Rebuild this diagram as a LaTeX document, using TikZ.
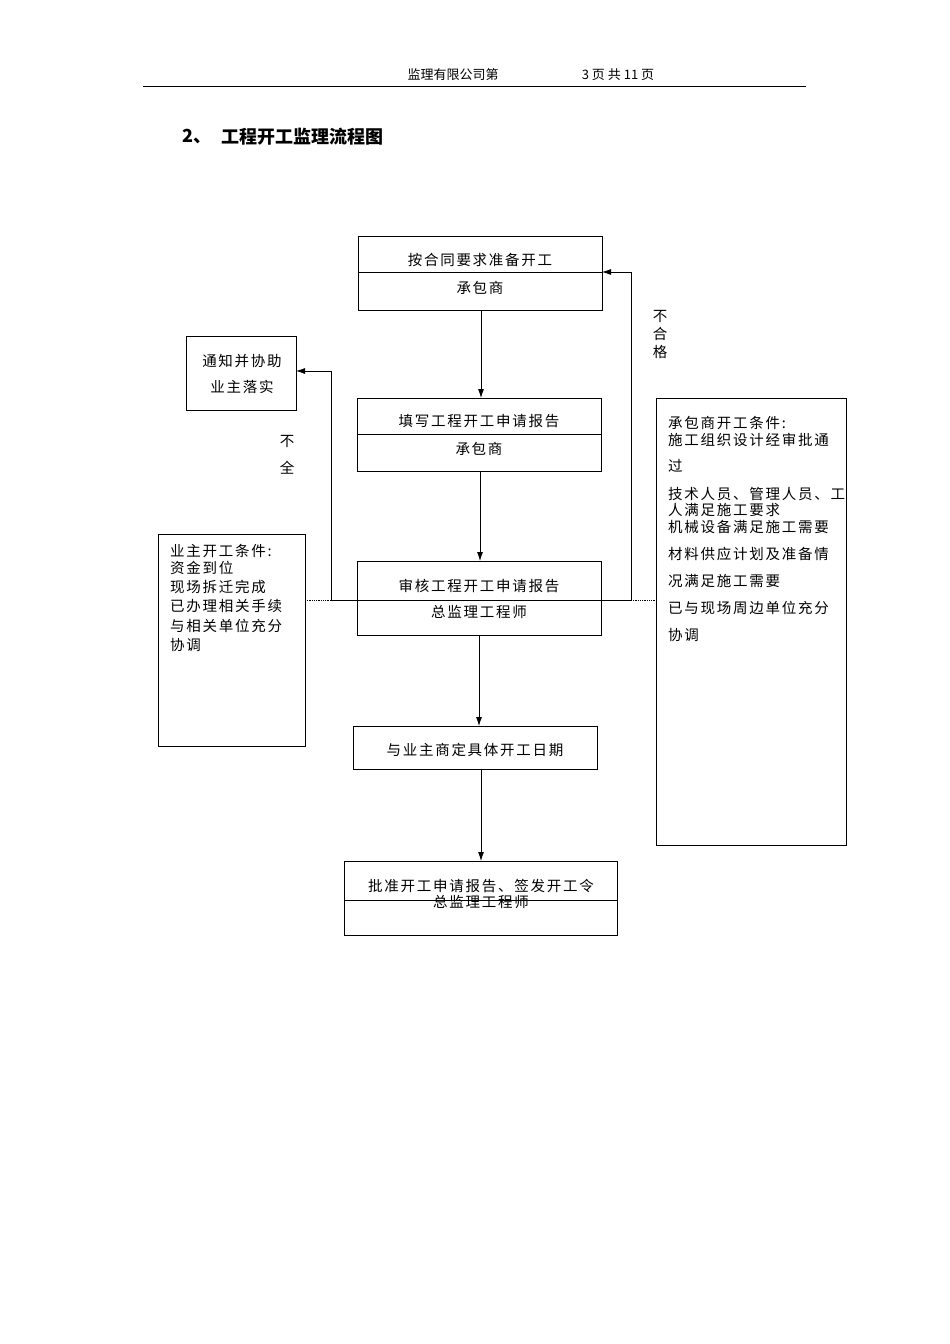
\documentclass[tikz,border=0pt]{standalone}
\usepackage{fontspec}
\usetikzlibrary{arrows.meta}
\setmainfont{Noto Sans CJK SC}
\newfontfamily\spc[LetterSpace=12]{Noto Sans CJK SC}
\begin{document}
\begin{tikzpicture}[x=1pt,y=-1pt,
  bx/.style={draw,line width=0.8pt},
  t/.style={font=\spc\fontsize{14.5}{15}\selectfont,inner sep=0pt},
  ln/.style={line width=0.8pt},
  ar/.style={line width=0.8pt,-{Latex[length=9pt,width=6pt]}},
  dt/.style={line width=0.8pt,densely dotted}]
\useasboundingbox (0,0) rectangle (950,1344);
\node[t,font=\fontsize{13}{13}\selectfont] (h1) at (453,75) {监理有限公司第};
\node[t,font=\fontsize{13}{13}\selectfont] (h2) at (618,75) {3 页 共 11 页};
\draw[ln] (143,86) -- (806,86);
\node[t,anchor=west,font=\bfseries\fontsize{18}{18}\selectfont] (num) at (182,137) {2、};
\node[t,anchor=west,font=\bfseries\fontsize{18}{18}\selectfont] (title) at (221,137) {工程开工监理流程图};
% box1
\draw[bx] (358,236) rectangle (602,310); \draw[ln] (358,272)--(602,272);
\coordinate (b1b) at (481,310); \coordinate (b1r) at (602,272);
\node[t] at (480,260) {按合同要求准备开工};
\node[t] at (480,288) {承包商};
% box2
\draw[bx] (357,398) rectangle (601,471); \draw[ln] (357,434)--(601,434);
\coordinate (b2t) at (481,398); \coordinate (b2b) at (480,471);
\node[t] at (479,421) {填写工程开工申请报告};
\node[t] at (479,449) {承包商};
% box3
\draw[bx] (357,561) rectangle (601,635); \draw[ln] (357,600)--(601,600);
\coordinate (b3t) at (480,561); \coordinate (b3b) at (479,635);
\coordinate (b3l) at (357,600); \coordinate (b3r) at (601,600);
\node[t] at (479,586) {审核工程开工申请报告};
\node[t] at (479,612) {总监理工程师};
% box4
\draw[bx] (353,726) rectangle (597,769);
\coordinate (b4t) at (479,726); \coordinate (b4b) at (481,769);
\node[t] at (475,750) {与业主商定具体开工日期};
% box5
\draw[bx] (344,861) rectangle (617,935); \draw[ln] (344,900)--(617,900);
\coordinate (b5t) at (481,861);
\node[t] at (481,886) {批准开工申请报告、签发开工令};
\node[t] at (481,902) {总监理工程师};
% notify
\draw[bx] (186,336) rectangle (296,410);
\coordinate (nr) at (296,371);
\node[t] at (242,361) {通知并协助};
\node[t] at (242,387) {业主落实};
% left cond box
\draw[bx] (158,534) rectangle (305,746);
\begin{scope}[every node/.style={t,anchor=west}]
\node at (170,551) {业主开工条件:};
\node at (170,568) {资金到位};
\node at (170,587) {现场拆迁完成};
\node at (170,606) {已办理相关手续};
\node at (170,626) {与相关单位充分};
\node at (170,645) {协调};
\end{scope}
% right cond box
\draw[bx] (656,398) rectangle (846,845);
\begin{scope}[every node/.style={t,anchor=west}]
\node at (668,423) {承包商开工条件:};
\node at (668,440) {施工组织设计经审批通};
\node at (668,466) {过};
\node at (668,494) {技术人员、管理人员、工};
\node at (668,510) {人满足施工要求};
\node at (668,527) {机械设备满足施工需要};
\node at (668,554) {材料供应计划及准备情};
\node at (668,581) {况满足施工需要};
\node at (668,608) {已与现场周边单位充分};
\node at (668,635) {协调};
\end{scope}
% arrows
\draw[ar] (b1b) -- (b2t);
\draw[ar] (b2b) -- (b3t);
\draw[ar] (b3b) -- (b4t);
\draw[ar] (b4b) -- (b5t);
\draw[ln] (b3l) -- (331,600);
\draw[ar] (331,600) -- (331,371) -- (nr);
\draw[dt] (305,600) -- (331,600);
\draw[ln] (b3r) -- (631,600);
\draw[ar] (631,600) -- (631,272) -- (b1r);
\draw[dt] (631,600) -- (656,600);
\node[t] at (287,441) {不};
\node[t] at (287,468) {全};
\node[t] at (660,316) {不};
\node[t] at (660,334) {合};
\node[t] at (660,352) {格};
\end{tikzpicture}
\end{document}
